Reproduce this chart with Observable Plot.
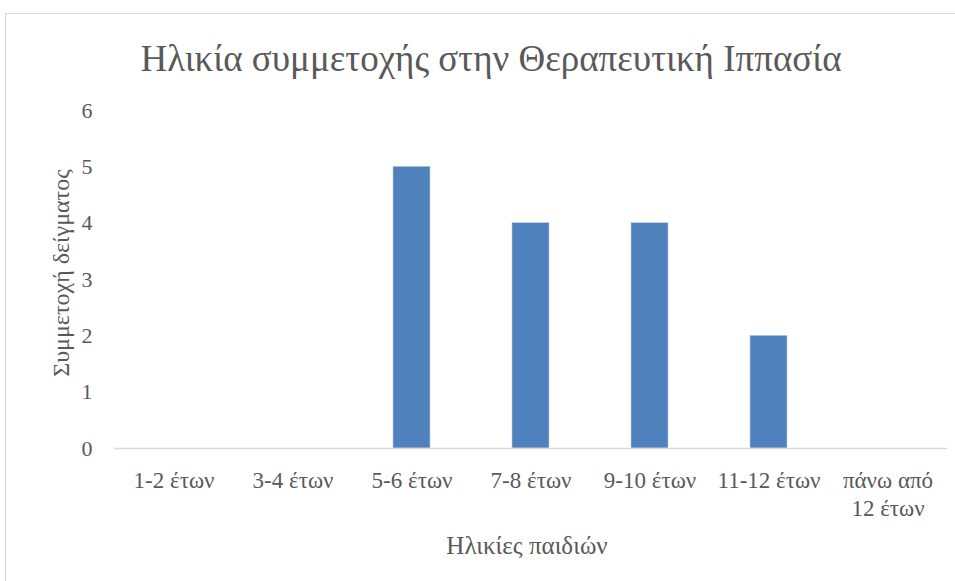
<!DOCTYPE html>
<html>
<head>
<meta charset="utf-8">
<script src="https://cdn.jsdelivr.net/npm/d3@7"></script>
<script src="https://cdn.jsdelivr.net/npm/@observablehq/plot@0.6"></script>
<style>
  html, body { margin: 0; padding: 0; background: #fff; }
  #wrap { position: relative; width: 955px; height: 581px; overflow: hidden; color: #595959; }
  #wrap div.t { font-family: "Liberation Serif", "DejaVu Serif", serif; color: #595959; position: absolute; white-space: nowrap; line-height: 1; }
  #frame { position: absolute; left: 5px; top: 13px; width: 960px; height: 600px; border: 1px solid #d9d9d9; box-sizing: border-box; }
  #title { left: 491px; top: 58px; transform: translate(-50%, -50%); font-size: 37px; }
  #ylab { left: 61px; top: 273px; transform: translate(-50%, -50%) rotate(-90deg); font-size: 24px; }
  #xlab { left: 527px; top: 545px; transform: translate(-50%, -50%); font-size: 25px; }
  #chart { position: absolute; left: 0; top: 0; }
</style>
</head>
<body>
<div id="wrap">
  <div id="frame"></div>
  <div id="chart"></div>
  <div class="t" id="title">Ηλικία συμμετοχής στην Θεραπευτική Ιππασία</div>
  <div class="t" id="ylab">Συμμετοχή δείγματος</div>
  <div class="t" id="xlab">Ηλικίες παιδιών</div>
</div>
<script>
const categories = ["1-2 έτων", "3-4 έτων", "5-6 έτων", "7-8 έτων", "9-10 έτων", "11-12 έτων", "πάνω από 12 έτων"];
const tickLabels = ["1-2 έτων", "3-4 έτων", "5-6 έτων", "7-8 έτων", "9-10 έτων", "11-12 έτων", "πάνω από\n12 έτων"];
const values = [0, 0, 5, 4, 4, 2, 0];
const yTicks = [0, 1, 2, 3, 4, 5, 6];

const data = categories.map((c, i) => ({category: c, value: values[i]}));
const labelOf = new Map(categories.map((c, i) => [c, tickLabels[i]]));

const plot = Plot.plot({
  width: 955,
  height: 581,
  marginTop: 110,
  marginBottom: 133,
  marginLeft: 114,
  marginRight: 8,
  style: { fontFamily: '"Liberation Serif", "DejaVu Serif", serif', fontSize: "21px", color: "#595959", background: "transparent" },
  x: { domain: categories, paddingInner: 0.69, paddingOuter: 0.345 },
  y: { domain: [0, 6] },
  marks: [
    Plot.barY(data, { x: "category", y: "value", fill: "#4f81bd", stroke: "#b9cde5", strokeWidth: 0.6 }),
    Plot.ruleY([0], { stroke: "#d9d9d9", strokeWidth: 1.5 }),
    Plot.axisY({ ticks: yTicks, tickFormat: d3.format("d"), tickSize: 0, tickPadding: 22, label: null, fill: "#595959", fontSize: 22 }),
    Plot.axisX({ tickSize: 0, tickPadding: 20, label: null, fill: "#595959", fontSize: 23, lineHeight: 1.2, tickFormat: d => labelOf.get(d) })
  ]
});
document.getElementById("chart").appendChild(plot);
</script>
</body>
</html>
